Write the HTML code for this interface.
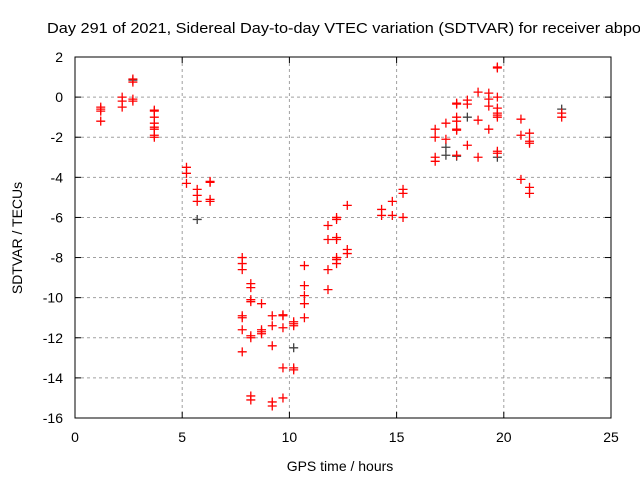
<!DOCTYPE html>
<html><head><meta charset="utf-8"><style>
body{margin:0;background:#fff;width:640px;height:480px;overflow:hidden}
svg{font-family:"Liberation Sans",sans-serif}
</style></head><body>
<svg id="chart" width="640" height="480">
<text x="47" y="33" font-size="14.5" textLength="594" lengthAdjust="spacingAndGlyphs">Day 291 of 2021, Sidereal Day-to-day VTEC variation (SDTVAR) for receiver abpo</text>
<g id="grid"></g><g id="ticks"></g><g id="pts"></g>
<rect x="75" y="57" width="536" height="361" fill="none" stroke="#000"/>
<text x="340" y="471" font-size="14" text-anchor="middle">GPS time / hours</text>
<text transform="translate(22,238) rotate(-90)" font-size="14" text-anchor="middle">SDTVAR / TECUs</text>
</svg>
<script>
const xTicks=[0,5,10,15,20,25];
const yTicks=[2,0,-2,-4,-6,-8,-10,-12,-14,-16];
const redX=[1.2,1.2,1.2,1.2,2.2,2.2,2.2,2.7,2.7,2.7,2.7,3.7,3.7,3.7,3.7,3.7,3.7,3.7,3.7,5.2,5.2,5.2,5.7,5.7,5.7,6.3,6.3,6.3,6.3,7.8,7.8,7.8,7.8,7.8,7.8,7.8,8.2,8.2,8.2,8.2,8.2,8.2,8.2,8.2,8.7,8.7,8.7,8.7,9.2,9.2,9.2,9.2,9.2,9.7,9.7,9.7,9.7,9.7,10.2,10.2,10.2,10.2,10.2,10.7,10.7,10.7,10.7,10.7,11.8,11.8,11.8,11.8,12.2,12.2,12.2,12.2,12.2,12.2,12.2,12.7,12.7,12.7,14.3,14.3,14.8,14.8,15.3,15.3,15.3,16.8,16.8,16.8,16.8,17.3,17.3,17.8,17.8,17.8,17.8,17.8,17.8,17.8,18.3,18.3,18.3,18.8,18.8,18.8,19.3,19.3,19.3,19.3,19.7,19.7,19.7,19.7,19.7,19.7,19.7,19.7,19.7,20.8,20.8,20.8,21.2,21.2,21.2,21.2,21.2,22.7,22.7];
const redY=[-0.5,-0.6,-0.7,-1.2,0,-0.2,-0.5,0.9,0.75,-0.1,-0.2,-0.65,-0.7,-1.0,-1.3,-1.5,-1.6,-1.9,-2.0,-3.5,-3.8,-4.3,-4.6,-4.9,-5.2,-4.2,-4.25,-5.1,-5.2,-8.0,-8.3,-8.6,-10.9,-11.0,-11.6,-12.7,-9.3,-9.5,-10.1,-10.2,-11.9,-12.0,-14.9,-15.1,-10.3,-11.6,-11.7,-11.8,-10.9,-11.4,-12.4,-15.2,-15.4,-10.9,-10.85,-11.5,-13.5,-15.0,-11.2,-11.4,-11.3,-13.5,-13.6,-8.4,-9.4,-9.9,-10.3,-11.0,-6.4,-7.1,-8.6,-9.6,-6.0,-6.1,-7.0,-7.1,-8.0,-8.1,-8.3,-5.4,-7.6,-7.8,-5.6,-5.9,-5.2,-5.9,-4.6,-4.8,-6.0,-1.6,-2.0,-3.0,-3.2,-1.3,-2.1,-0.3,-0.35,-1.0,-1.2,-1.6,-1.65,-2.9,-0.15,-0.35,-2.4,0.25,-1.15,-3.0,0.2,-0.1,-0.45,-1.6,1.5,1.45,0,-0.55,-0.8,-0.9,-1.0,-2.7,-2.8,-1.1,-1.9,-4.1,-1.8,-2.2,-2.3,-4.5,-4.8,-0.8,-1.0];
const greyX=[2.7,5.7,10.2,17.3,17.3,17.8,18.3,19.7,22.7];
const greyY=[0.85,-6.1,-12.5,-2.5,-2.9,-2.95,-1.0,-3.0,-0.6];
const NS="http://www.w3.org/2000/svg";
const xs=v=>75+v*(536/25), ys=v=>57+(2-v)*(361/18);
const grid=document.getElementById('grid'),ticks=document.getElementById('ticks'),pts=document.getElementById('pts');
function mk(tag,at,parent){const e=document.createElementNS(NS,tag);for(const k in at)e.setAttribute(k,at[k]);parent.appendChild(e);return e;}
xTicks.forEach(t=>{const x=xs(t);
 if(t>0&&t<25){const g=mk('line',{x1:x,x2:x,y1:57,y2:418,stroke:'#a0a0a0','stroke-dasharray':'3,3'},grid);
 
 }
 mk('line',{x1:x,x2:x,y1:418,y2:412,stroke:'#000'},ticks);mk('line',{x1:x,x2:x,y1:57,y2:63,stroke:'#000'},ticks);
 const l=mk('text',{x:x,y:442,'font-size':14,'text-anchor':'middle'},ticks);l.textContent=t;
 
 });
yTicks.forEach(t=>{const y=ys(t);
 if(t<2&&t>-16){const g=mk('line',{x1:75,x2:611,y1:y,y2:y,stroke:'#a0a0a0','stroke-dasharray':'3,3'},grid);
 
 }
 mk('line',{x1:75,x2:81,y1:y,y2:y,stroke:'#000'},ticks);mk('line',{x1:611,x2:605,y1:y,y2:y,stroke:'#000'},ticks);
 const l=mk('text',{x:63,y:y+5,'font-size':14,'text-anchor':'end'},ticks);l.textContent=t;
 
 });
function plus(x,y,c,name){const p=mk('path',{d:`M${xs(x)-4.5},${ys(y)}h9M${xs(x)},${ys(y)-4.5}v9`,stroke:c,'stroke-width':1.3,fill:'none'},pts);
 
 }
greyX.forEach((x,i)=>plus(x,greyY[i],'#404040','grey-point'));
redX.forEach((x,i)=>plus(x,redY[i],'#ff0000','sdtvar-point'));
</script>
</body></html>
